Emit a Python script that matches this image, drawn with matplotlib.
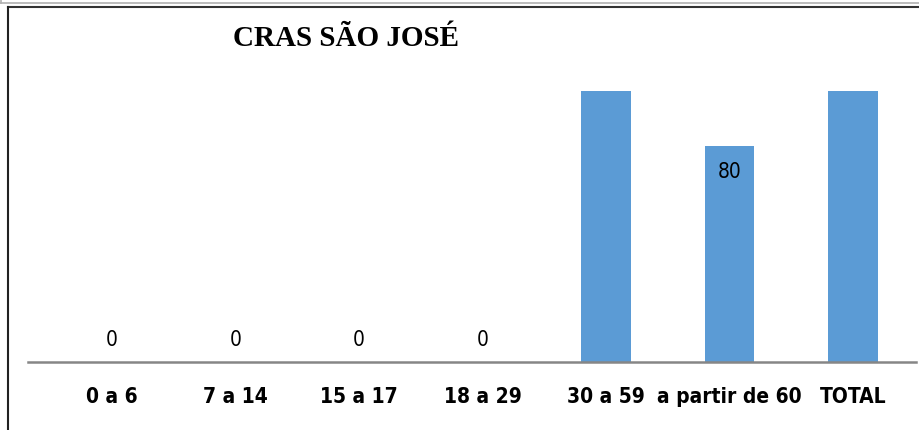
import matplotlib.pyplot as plt
from matplotlib.lines import Line2D

# Data
categories = ['0 a 6', '7 a 14', '15 a 17', '18 a 29', '30 a 59', 'a partir de 60', 'TOTAL']
values = [0, 0, 0, 0, 120, 80, 200]
shown_labels = [True, True, True, True, False, True, False]

fig = plt.figure(figsize=(9.2, 4.3), dpi=100)
ax = fig.add_axes([28 / 920, 1 - 362 / 430, (916 - 28) / 920, (362 - 91) / 430])

x = list(range(len(categories)))
bars = ax.bar(x, values, width=0.4, color='#5B9BD5', zorder=2)

ax.set_xlim(-0.68, 6.51)
ax.set_ylim(0, 100.4)

# data labels
for xi, v, show in zip(x, values, shown_labels):
    if not show:
        continue
    off = 16 if v == 0 else -19
    ax.annotate(str(v), (xi, v), xytext=(0, off), textcoords='offset points',
                ha='center', va='center', fontsize=15,
                family=['DejaVu Sans'], stretch='condensed')

# axes styling
for s in ['top', 'right', 'left']:
    ax.spines[s].set_visible(False)
ax.spines['bottom'].set_color('#868686')
ax.spines['bottom'].set_linewidth(1.8)
ax.set_yticks([])
ax.set_xticks(x)
ax.set_xticklabels(categories, fontsize=15, fontweight='bold',
                   family=['DejaVu Sans'], stretch='condensed')
ax.tick_params(axis='x', length=0, pad=18)

# title
fig.text(346 / 920, 1 - 39 / 430, 'CRAS SÃO JOSÉ', ha='center', va='center',
         fontsize=21, fontweight='bold', family=['Liberation Serif', 'DejaVu Serif'])

# frame lines from the screenshot
fig.add_artist(Line2D([0, 1], [1 - 3 / 430, 1 - 3 / 430], color='#b0b0b0', lw=1.2))
fig.add_artist(Line2D([1 / 920, 1 / 920], [1, 1 - 3 / 430], color='#b0b0b0', lw=1.2))
fig.add_artist(Line2D([8 / 920, 1], [1 - 7 / 430, 1 - 7 / 430], color='#333333', lw=1.5))
fig.add_artist(Line2D([8 / 920, 8 / 920], [0, 1 - 7 / 430], color='#222222', lw=1.5))

fig.savefig('out.png', dpi=100)
